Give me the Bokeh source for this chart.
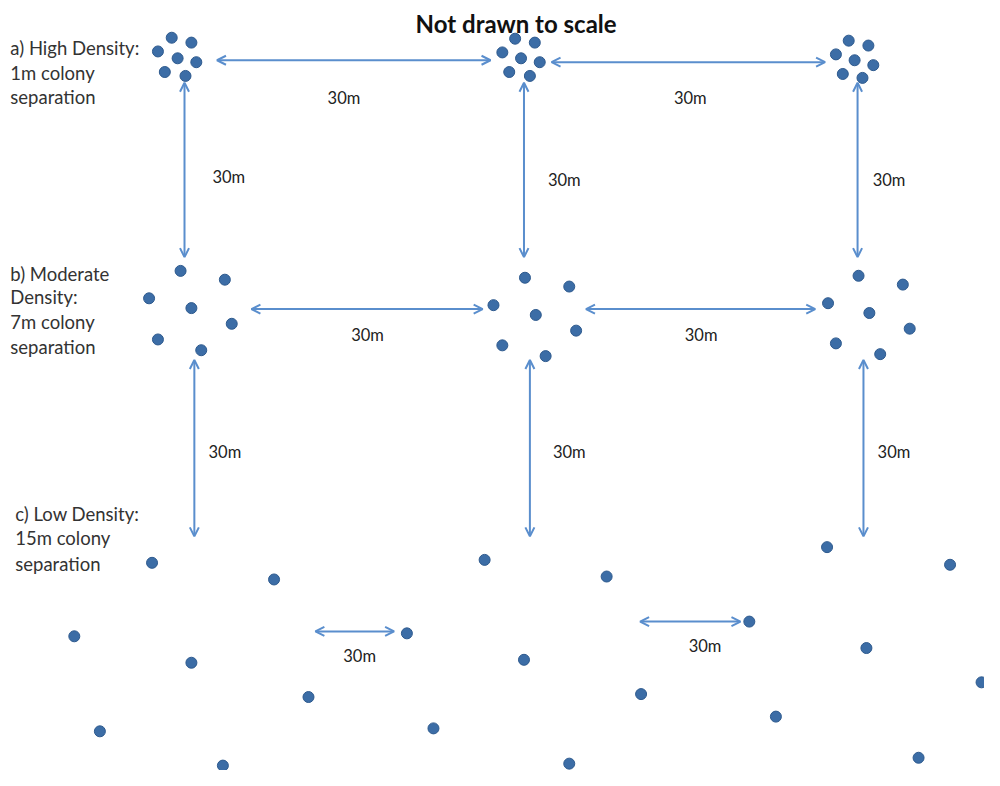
from bokeh.plotting import figure
from bokeh.models import ColumnDataSource, Arrow, OpenHead, Range1d
from bokeh.core.properties import value
from bokeh.embed import file_html
from bokeh.resources import INLINE

# Colony positions (diagram coordinates, y grows downward)
high_x = [174, 194, 160, 180, 199, 167, 188,
          523, 543, 510, 529, 548, 517, 538,
          862, 882, 849, 868, 887, 856, 876]
high_y = [38, 43, 52, 59, 63, 73, 77,
          39, 43, 53, 59, 63, 73, 77,
          41, 46, 55, 61, 66, 75, 79]
mod_x = [183, 228, 151, 194, 235, 160, 204,
         533, 578, 501, 544, 585, 510, 554,
         872, 917, 841, 883, 924, 849, 894]
mod_y = [276, 285, 304, 314, 330, 346, 357,
         283, 292, 311, 321, 337, 352, 363,
         281, 290, 309, 319, 335, 350, 361]
low_x = [154, 278, 492, 75, 413, 194, 313, 440, 101, 226,
         840, 965, 616, 761, 532, 880, 997, 651, 788, 933, 578]
low_y = [574, 591, 571, 649, 646, 676, 711, 743, 746, 781,
         558, 576, 588, 634, 673, 661, 696, 708, 731, 773, 779]

# Distance arrows (start / end)
arr_x0 = [220, 560, 187, 532, 871, 255, 595, 197, 538, 877, 320, 650]
arr_y0 = [61, 63, 84, 84, 84, 315, 315, 367, 367, 367, 644, 634]
arr_x1 = [498, 838, 187, 532, 871, 490, 828, 197, 538, 877, 400, 752]
arr_y1 = [61, 63, 262, 262, 262, 315, 315, 547, 547, 547, 644, 634]

# Distance labels
dist_x = [349, 701, 232, 573, 903, 373, 712, 228, 578, 908, 365, 716]
dist_y = [100, 100, 180, 183, 183, 341, 341, 461, 461, 461, 669, 659]
dist_text = ["30m"] * 12

# Side labels
lab_x = [10, 10, 10, 10, 10, 10, 10, 15, 15, 15]
lab_y = [48, 74, 99, 279, 303, 328, 354, 524, 549, 575]
lab_text = ["a) High Density:", "1m colony", "separation",
            "b) Moderate", "Density:", "7m colony", "separation",
            "c) Low Density:", "15m colony", "separation"]

title_text = ["Not drawn to scale"]
title_x = [524]
title_y = [23]

p = figure(width=984, height=770, output_backend="svg", toolbar_location=None,
           x_range=Range1d(0, 1000), y_range=Range1d(786, 0),
           min_border=0, outline_line_color=None)
p.axis.visible = False
p.grid.visible = False
p.background_fill_color = "white"
p.border_fill_color = "white"

arrow_color = "#5a8ecd"
src = ColumnDataSource(dict(x0=arr_x0, y0=arr_y0, x1=arr_x1, y1=arr_y1))
p.add_layout(Arrow(
    start=OpenHead(size=9, line_color=arrow_color, line_width=2),
    end=OpenHead(size=9, line_color=arrow_color, line_width=2),
    x_start="x0", y_start="y0", x_end="x1", y_end="y1",
    line_color=arrow_color, line_width=2, source=src))

dot_fill = "#3c6da6"
dot_line = "#2e5a8e"
for xs, ys in ((high_x, high_y), (mod_x, mod_y), (low_x, low_y)):
    p.scatter(xs, ys, size=11, fill_color=dot_fill, line_color=dot_line, line_width=1)

p.text(dist_x, dist_y, text=dist_text, text_font=value("Lato"), text_font_size="16.5px",
       text_color="#222222", text_align="center", text_baseline="middle")
p.text(lab_x, lab_y, text=lab_text, text_font=value("Lato"), text_font_size="18.5px",
       text_color="#333333", text_align="left", text_baseline="middle")
p.text(title_x, title_y, text=title_text, text_font=value("Lato"), text_font_size="24px",
       text_font_style="bold", text_color="#111111", text_align="center", text_baseline="middle")

open("out.html", "w").write(file_html(p, INLINE))
